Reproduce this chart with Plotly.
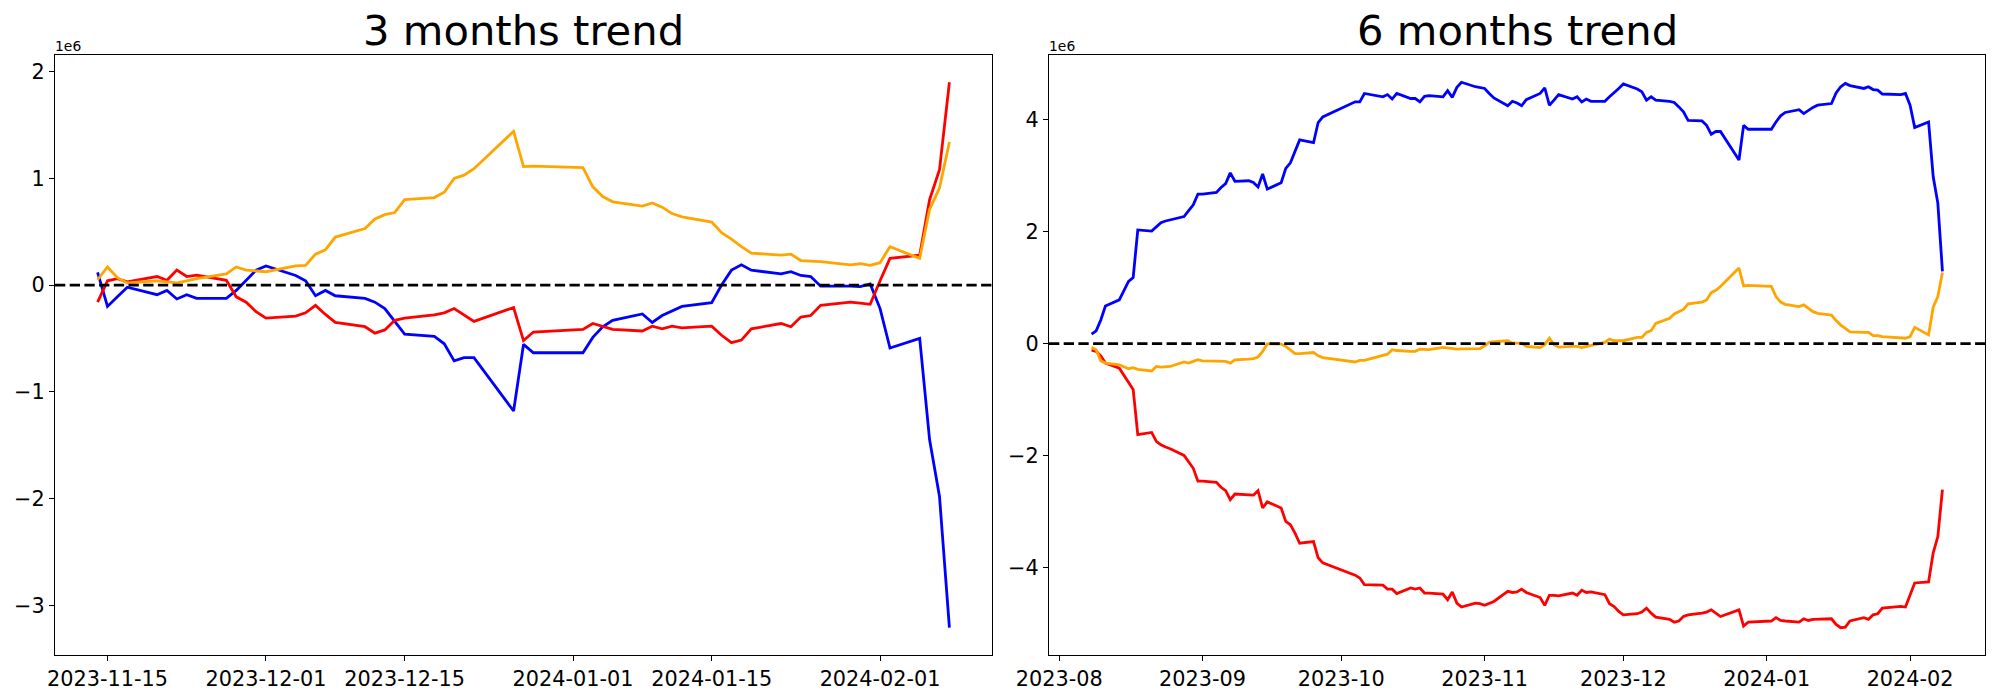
import plotly.graph_objects as go
import pandas as pd

# ---------------- 3 months trend (values in units of 1e6) ----------------
nov_3m = [14, 15, 16, 17, 20, 21, 22, 23, 24, 27, 28, 29, 30]
dec_3m = [1, 4, 5, 6, 7, 8, 11, 12, 13, 14, 15, 18, 19, 20, 21, 22, 26, 27, 28]
jan_3m = [2, 3, 4, 5, 8, 9, 10, 11, 12, 15, 16, 17, 18, 19, 22, 23, 24, 25, 26, 29, 30, 31]
feb_3m = [1, 2, 5, 6, 7, 8]

blue_3m = [0.12, -0.20, -0.11, -0.02, -0.09, -0.05, -0.13, -0.09, -0.125, -0.125, -0.05, 0.045, 0.14,
           0.18, 0.09, 0.04, -0.10, -0.05, -0.10, -0.125, -0.16, -0.22, -0.34, -0.46, -0.48, -0.55, -0.71,
           -0.68, -0.68, -1.18, -0.556, -0.634,
           -0.634, -0.49, -0.39, -0.33, -0.27, -0.35, -0.285, -0.24, -0.20, -0.165, 0.0, 0.14, 0.19, 0.14,
           0.105, 0.125, 0.09, 0.08, -0.01, -0.01, -0.015, 0.01,
           -0.22, -0.59, -0.50, -1.45, -1.98, -3.21]
red_3m = [-0.16, 0.04, 0.06, 0.03, 0.08, 0.045, 0.14, 0.08, 0.094, 0.044, -0.11, -0.16, -0.25,
          -0.31, -0.29, -0.26, -0.19, -0.275, -0.35, -0.39, -0.45, -0.42, -0.33, -0.31, -0.28, -0.26, -0.22,
          -0.28, -0.34, -0.21, -0.52, -0.44,
          -0.415, -0.36, -0.39, -0.415, -0.43, -0.385, -0.41, -0.385, -0.40, -0.385, -0.47, -0.54, -0.515,
          -0.41, -0.36, -0.39, -0.30, -0.285, -0.19, -0.16, -0.17, -0.18,
          0.04, 0.25, 0.28, 0.80, 1.08, 1.90]
orange_3m = [0.05, 0.17, 0.07, 0.02, 0.04, 0.03, 0.02, 0.04, 0.06, 0.105, 0.17, 0.14, 0.13,
             0.125, 0.18, 0.185, 0.29, 0.33, 0.45, 0.53, 0.62, 0.66, 0.68, 0.80, 0.82, 0.87, 1.00,
             1.03, 1.09, 1.44, 1.11, 1.115,
             1.10, 0.92, 0.83, 0.78, 0.74, 0.77, 0.73, 0.67, 0.64, 0.59, 0.49, 0.43, 0.36, 0.30,
             0.28, 0.29, 0.23, 0.225, 0.22, 0.19, 0.20, 0.185,
             0.21, 0.36, 0.25, 0.71, 0.91, 1.34]

# ---------------- 6 months trend (values in units of 1e6) ----------------
aug_6m = [8, 9, 10, 11, 14, 16, 17, 18, 21, 22, 23, 24, 25, 28, 29, 30, 31]
sep_6m = [1, 4, 5, 6, 7, 8, 11, 12, 13, 14, 15, 18, 19, 20, 21, 22, 25, 26, 27]
oct_6m = [4, 5, 6, 10, 11, 12, 13, 16, 17, 18, 19, 20, 23, 24, 25, 26, 27, 30, 31]
nov_6m = [1, 2, 3, 6, 7, 8, 9, 10, 13, 14, 15, 16, 17, 20, 21, 22, 23, 24, 27, 28, 29, 30]
dec_6m = [1, 4, 5, 6, 7, 8, 11, 12, 13, 14, 15, 18, 19, 20, 21, 22, 26, 27, 28]
jan_6m = [2, 3, 4, 5, 8, 9, 10, 11, 12, 15, 16, 17, 18, 19, 22, 23, 24, 25, 26, 29, 30, 31]
feb_6m = [1, 2, 5, 6, 7, 8]

blue_6m = [0.167, 0.226, 0.42, 0.67, 0.78, 1.11, 1.18, 2.03, 2.01, 2.09, 2.16, 2.19, 2.21, 2.27, 2.375, 2.48, 2.67,
           2.67, 2.70, 2.79, 2.86, 3.05, 2.90, 2.91, 2.88, 2.80, 3.03, 2.76, 2.875, 3.13, 3.23, 3.44, 3.64, 3.59, 3.95, 4.05,
           4.32, 4.32, 4.47, 4.41, 4.45, 4.37, 4.47, 4.38, 4.38, 4.32, 4.42, 4.43, 4.41, 4.52, 4.40, 4.58, 4.67, 4.59, 4.58,
           4.56, 4.47, 4.39, 4.25, 4.33, 4.30, 4.25, 4.36, 4.47, 4.57, 4.26, 4.35, 4.45, 4.37, 4.41, 4.32, 4.37, 4.33, 4.33,
           4.41, 4.48, 4.56,
           4.64, 4.55, 4.50, 4.35, 4.41, 4.35, 4.33, 4.31, 4.23, 4.14, 3.99, 3.98, 3.90, 3.74, 3.79, 3.79, 3.28, 3.90, 3.83,
           3.83, 3.96, 4.07, 4.13, 4.18, 4.11, 4.17, 4.22, 4.26, 4.29, 4.48, 4.59, 4.65, 4.61, 4.56, 4.59, 4.54, 4.53, 4.46,
           4.46, 4.45, 4.47,
           4.26, 3.86, 3.96, 2.98, 2.51, 1.29]
red_6m = [-0.12, -0.14, -0.22, -0.35, -0.44, -0.71, -0.82, -1.63, -1.59, -1.75, -1.81, -1.85, -1.88, -2.00, -2.11, -2.23, -2.46,
          -2.46, -2.48, -2.57, -2.63, -2.79, -2.69, -2.71, -2.71, -2.63, -2.94, -2.83, -2.94, -3.18, -3.24, -3.39, -3.57, -3.54,
          -3.83, -3.92,
          -4.14, -4.19, -4.31, -4.32, -4.39, -4.39, -4.47, -4.37, -4.39, -4.37, -4.46, -4.46, -4.48, -4.58, -4.44, -4.64, -4.71,
          -4.64, -4.65,
          -4.68, -4.65, -4.61, -4.43, -4.45, -4.44, -4.39, -4.45, -4.54, -4.68, -4.50, -4.50, -4.51, -4.46, -4.50, -4.41, -4.45,
          -4.44, -4.49, -4.65, -4.70, -4.79,
          -4.85, -4.83, -4.80, -4.73, -4.82, -4.89, -4.93, -4.98, -4.96, -4.88, -4.85, -4.82, -4.80, -4.76, -4.82, -4.88, -4.76,
          -5.05, -4.98,
          -4.96, -4.90, -4.95, -4.96, -4.98, -4.92, -4.95, -4.93, -4.93, -4.92, -5.02, -5.08, -5.07, -4.96, -4.90, -4.93, -4.85,
          -4.83, -4.73, -4.70, -4.70, -4.71,
          -4.49, -4.28, -4.26, -3.74, -3.45, -2.61]
orange_6m = [-0.065, -0.11, -0.31, -0.35, -0.38, -0.45, -0.43, -0.46, -0.49, -0.41, -0.42, -0.42, -0.41, -0.33, -0.35, -0.32, -0.29,
             -0.31, -0.31, -0.31, -0.32, -0.35, -0.29, -0.28, -0.27, -0.24, -0.14, -0.006, -0.01, -0.05, -0.11, -0.18, -0.18,
             -0.16, -0.22, -0.25,
             -0.33, -0.30, -0.30, -0.22, -0.19, -0.11, -0.125, -0.14, -0.14, -0.10, -0.11, -0.11, -0.07, -0.08, -0.10, -0.10,
             -0.095, -0.095, -0.09,
             -0.04, 0.02, 0.035, 0.05, 0.006, 0.006, 0.006, -0.05, -0.07, -0.02, 0.095, -0.02, -0.065, -0.05, -0.05, -0.07,
             -0.05, -0.03, 0.02, 0.08, 0.05, 0.05,
             0.05, 0.11, 0.11, 0.20, 0.23, 0.36, 0.45, 0.53, 0.57, 0.61, 0.71, 0.74, 0.78, 0.91, 0.95, 1.02, 1.35, 1.03, 1.04,
             1.02, 0.84, 0.74, 0.70, 0.66, 0.69, 0.63, 0.57, 0.54, 0.51, 0.41, 0.33, 0.27, 0.21, 0.20, 0.20, 0.14, 0.14,
             0.125, 0.11, 0.11, 0.095,
             0.125, 0.29, 0.155, 0.65, 0.84, 1.27]

ticks_3m = ["2023-11-15", "2023-12-01", "2023-12-15", "2024-01-01", "2024-01-15", "2024-02-01"]
ticks_6m = ["2023-08-01", "2023-09-01", "2023-10-01", "2023-11-01", "2023-12-01", "2024-01-01", "2024-02-01"]
ticklabels_6m = ["2023-08", "2023-09", "2023-10", "2023-11", "2023-12", "2024-01", "2024-02"]
yticks_3m = [-3, -2, -1, 0, 1, 2]
yticks_6m = [-4, -2, 0, 2, 4]
titles = ["3 months trend", "6 months trend"]


def mk(year, month, days):
    return [f"{year}-{month:02d}-{d:02d}" for d in days]


dates_3m = mk(2023, 11, nov_3m) + mk(2023, 12, dec_3m) + mk(2024, 1, jan_3m) + mk(2024, 2, feb_3m)
dates_6m = (mk(2023, 8, aug_6m) + mk(2023, 9, sep_6m) + mk(2023, 10, oct_6m) + mk(2023, 11, nov_6m)
            + mk(2023, 12, dec_6m) + mk(2024, 1, jan_6m) + mk(2024, 2, feb_6m))

FONT = "DejaVu Sans"
LW = 2.8
W, H = 2000, 700

fig = go.Figure()
for xa, ya, dates, series in [("x", "y", dates_3m, (blue_3m, red_3m, orange_3m)),
                              ("x2", "y2", dates_6m, (blue_6m, red_6m, orange_6m))]:
    for vals, col in zip(series, ["blue", "red", "orange"]):
        fig.add_trace(go.Scatter(x=dates, y=vals, mode="lines", xaxis=xa, yaxis=ya,
                                 line=dict(color=col, width=LW), showlegend=False, hoverinfo="skip"))


def xrange_for(dates):
    d0, d1 = pd.Timestamp(dates[0]), pd.Timestamp(dates[-1])
    pad = (d1 - d0) * 0.05
    return [(d0 - pad).isoformat(), (d1 + pad).isoformat()]


def yrange_for(series):
    lo = min(min(s) for s in series)
    hi = max(max(s) for s in series)
    pad = (hi - lo) * 0.05
    return [lo - pad, hi + pad]


axis_common = dict(showgrid=False, zeroline=False, showline=True, linecolor="black", linewidth=1.1,
                   mirror=True, ticks="outside", ticklen=5, tickwidth=1.1, tickcolor="black",
                   automargin=False,
                   tickfont=dict(family=FONT, size=20.8, color="black"))

xd1 = [55 / W, 992 / W]
xd2 = [1049 / W, 1985 / W]
yd = [1 - 655 / H, 1 - 55 / H]

fig.update_layout(
    width=W, height=H, margin=dict(l=0, r=0, t=0, b=0, autoexpand=False),
    paper_bgcolor="white", plot_bgcolor="white", showlegend=False,
    font=dict(family=FONT, color="black"),
    xaxis=dict(domain=xd1, anchor="y", type="date", range=xrange_for(dates_3m),
               tickvals=ticks_3m, ticktext=ticks_3m, **axis_common),
    yaxis=dict(domain=yd, anchor="x", range=yrange_for([blue_3m, red_3m, orange_3m]),
               tickvals=yticks_3m, **axis_common),
    xaxis2=dict(domain=xd2, anchor="y2", type="date", range=xrange_for(dates_6m),
                tickvals=ticks_6m, ticktext=ticklabels_6m, **axis_common),
    yaxis2=dict(domain=yd, anchor="x2", range=yrange_for([blue_6m, red_6m, orange_6m]),
                tickvals=yticks_6m, **axis_common),
)

for xa, ya in [("x", "y"), ("x2", "y2")]:
    fig.add_shape(type="line", xref=f"{xa} domain", yref=ya, x0=0, x1=1, y0=0, y1=0,
                  line=dict(color="black", width=LW, dash="10.3px,4.4px"), layer="above")

for dom, title in zip([xd1, xd2], titles):
    fig.add_annotation(text=title, xref="paper", yref="paper", x=(dom[0] + dom[1]) / 2,
                       y=1 - 31 / H, xanchor="center", yanchor="middle", showarrow=False,
                       font=dict(family=FONT, size=41.7, color="black"))
    fig.add_annotation(text="1e6", xref="paper", yref="paper", x=dom[0], y=1 - 46 / H,
                       xanchor="left", yanchor="middle", showarrow=False, xshift=-2,
                       font=dict(family=FONT, size=13.9, color="black"))

fig.write_html("out.html", config={"displayModeBar": False},
               post_script="document.body.style.margin='0';document.body.style.overflow='hidden';")
